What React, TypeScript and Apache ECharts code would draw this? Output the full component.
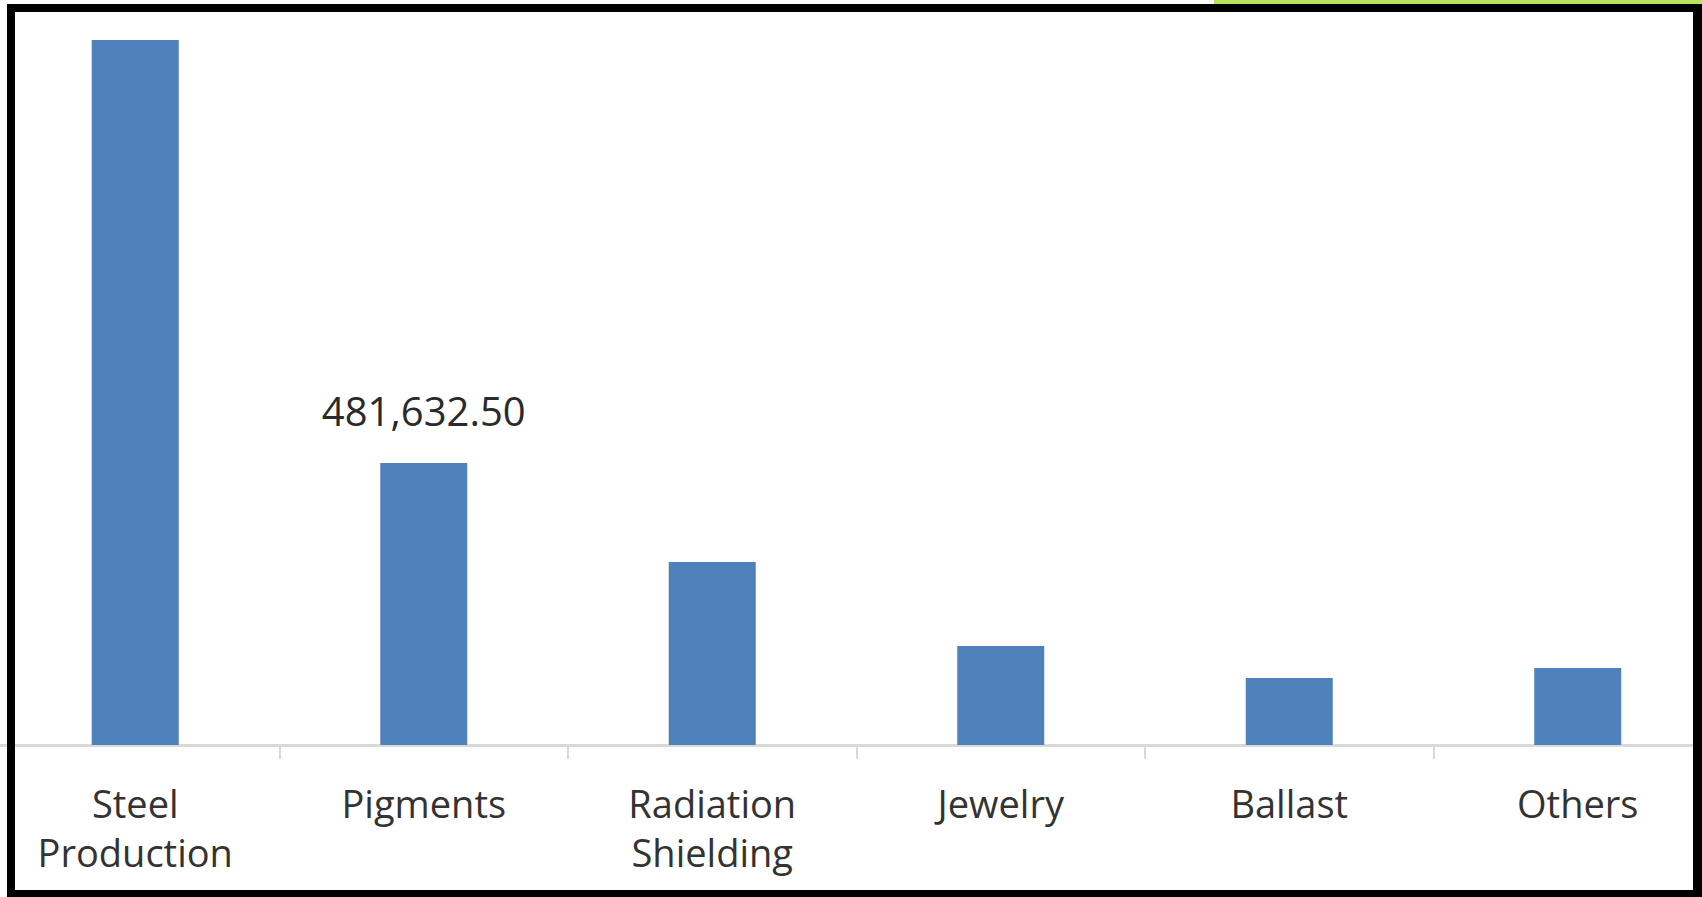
import React, { useEffect, useRef } from "react";
import * as echarts from "echarts";

const categories = ["Steel\nProduction", "Pigments", "Radiation\nShielding", "Jewelry", "Ballast", "Others"];
const values = [1204100, 481632.5, 312500, 169100, 114400, 131500];
const labelledIndex = [1];

export default function App() {
  const ref = useRef<HTMLDivElement>(null);
  useEffect(() => {
    document.body.style.margin = "0";
    const chart = echarts.init(ref.current!, null, { renderer: "svg" });
    const font = "'Open Sans', 'Noto Sans', sans-serif";
    chart.setOption({
      animation: false,
      backgroundColor: "#ffffff",
      grid: { left: -9, width: 1731, top: 13, bottom: 152, containLabel: false, outerBoundsMode: "none" },
      xAxis: {
        type: "category",
        data: categories,
        axisLine: { show: true, lineStyle: { color: "#d9d9d9", width: 3 } },
        axisTick: { show: true, length: 14, lineStyle: { color: "#d9d9d9", width: 2 } },
        axisLabel: {
          color: "#333333",
          fontFamily: font,
          fontSize: 38,
          lineHeight: 49,
          margin: 33,
          interval: 0,
        },
      },
      yAxis: {
        type: "value",
        min: 0,
        max: 1250000,
        show: false,
        splitLine: { show: false },
      },
      series: [
        {
          type: "bar",
          barWidth: 87,
          itemStyle: { color: "#4f81bd" },
          data: values.map((v, i) => ({
            value: v,
            label: {
              show: labelledIndex.includes(i),
              position: "top",
              distance: 32,
              color: "#2a2a2a",
              fontFamily: font,
              fontSize: 40,
              formatter: (p: any) =>
                Number(p.value).toLocaleString("en-US", { minimumFractionDigits: 2, maximumFractionDigits: 2 }),
            },
          })),
        },
      ],
      graphic: [
        { type: "rect", left: 1214, top: 0, shape: { width: 488, height: 4 }, style: { fill: "#b8e35c" }, z: 10 },
        { type: "rect", left: 7, top: 4, shape: { width: 1695, height: 8 }, style: { fill: "#000000" }, z: 10 },
        { type: "rect", left: 7, top: 4, shape: { width: 8, height: 893 }, style: { fill: "#000000" }, z: 10 },
        { type: "rect", left: 1693, top: 4, shape: { width: 9, height: 893 }, style: { fill: "#000000" }, z: 10 },
        { type: "rect", left: 7, top: 890, shape: { width: 1695, height: 7 }, style: { fill: "#000000" }, z: 10 },
      ],
    });
    return () => chart.dispose();
  }, []);
  return <div ref={ref} style={{ position: "fixed", left: 0, top: 0, width: 1702, height: 897 }} />;
}
